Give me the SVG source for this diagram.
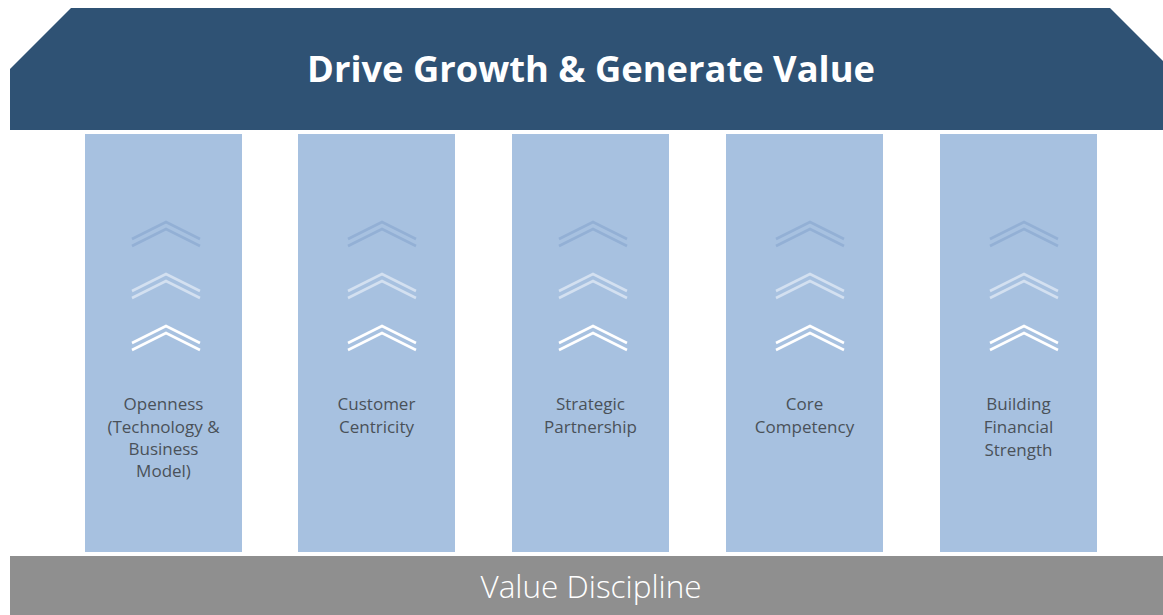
<svg xmlns="http://www.w3.org/2000/svg" width="1163" height="615" viewBox="0 0 1163 615">
<style>
.col{fill:#a7c1e0}
.lbl{font-family:"Open Sans","Noto Sans",sans-serif;font-size:17px;fill:#4a5159;text-anchor:middle}
.c1{fill:none;stroke:#93b0d5;stroke-width:2.6}
.c2{fill:none;stroke:#d3e0f0;stroke-width:2.6}
.c3{fill:none;stroke:#ffffff;stroke-width:2.6}
</style>
<defs>
<g id="chev">
<path class="c1" d="M-34,239 L0,222 L34,239 M-34,246 L0,229 L34,246"/>
<path class="c2" d="M-34,291 L0,274 L34,291 M-34,298 L0,281 L34,298"/>
<path class="c3" d="M-34,343 L0,326 L34,343 M-34,350 L0,333 L34,350"/>
</g>
</defs>
<rect width="1163" height="615" fill="#ffffff"/>
<g id="roof">
<polygon points="10,69 71,8 1110,8 1163,61 1163,130 10,130" fill="#2f5274"/>
<text x="591" y="82" font-family="Open Sans, Noto Sans, sans-serif" font-size="36.3" font-weight="bold" fill="#ffffff" text-anchor="middle">Drive Growth &amp; Generate Value</text>
</g>
<g id="pillar1">
<rect class="col" x="85" y="134" width="157" height="418"/>
<use href="#chev" x="166"/>
<text class="lbl" x="163.5" y="410">Openness</text>
<text class="lbl" x="163.5" y="432.5">(Technology &amp;</text>
<text class="lbl" x="163.5" y="455">Business</text>
<text class="lbl" x="163.5" y="477">Model)</text>
</g>
<g id="pillar2">
<rect class="col" x="298" y="134" width="157" height="418"/>
<use href="#chev" x="382"/>
<text class="lbl" x="376.5" y="410">Customer</text>
<text class="lbl" x="376.5" y="432.5">Centricity</text>
</g>
<g id="pillar3">
<rect class="col" x="512" y="134" width="157" height="418"/>
<use href="#chev" x="593"/>
<text class="lbl" x="590.5" y="410">Strategic</text>
<text class="lbl" x="590.5" y="432.5">Partnership</text>
</g>
<g id="pillar4">
<rect class="col" x="726" y="134" width="157" height="418"/>
<use href="#chev" x="810"/>
<text class="lbl" x="804.5" y="410">Core</text>
<text class="lbl" x="804.5" y="432.5">Competency</text>
</g>
<g id="pillar5">
<rect class="col" x="940" y="134" width="157" height="418"/>
<use href="#chev" x="1024"/>
<text class="lbl" x="1018.5" y="410">Building</text>
<text class="lbl" x="1018.5" y="432.5">Financial</text>
<text class="lbl" x="1018.5" y="456">Strength</text>
</g>
<g id="base">
<rect x="10" y="556" width="1153" height="59" fill="#8f8f8f"/>
<text x="591" y="598" font-family="Open Sans, Noto Sans, sans-serif" font-size="31.5" font-weight="300" fill="#ffffff" text-anchor="middle">Value Discipline</text>
</g>
<g id="connectors"/>
</svg>
